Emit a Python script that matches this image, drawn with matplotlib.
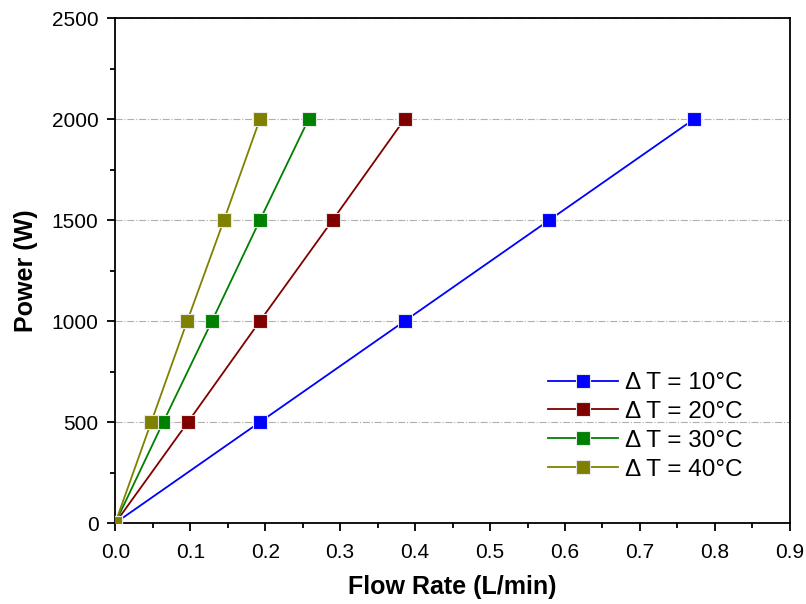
import matplotlib.pyplot as plt
from matplotlib.ticker import MultipleLocator

plt.rcParams['font.family'] = ['Liberation Sans', 'DejaVu Sans']

# Power levels and the flow rate needed for each temperature rise
power = [0, 500, 1000, 1500, 2000]
flow_10 = [0, 0.193, 0.386, 0.579, 0.772]
flow_20 = [0, 0.097, 0.193, 0.290, 0.386]
flow_30 = [0, 0.064, 0.129, 0.193, 0.258]
flow_40 = [0, 0.048, 0.096, 0.145, 0.193]
labels = ["Δ T = 10°C", "Δ T = 20°C", "Δ T = 30°C", "Δ T = 40°C"]
colors = ["#0000FF", "#800000", "#008000", "#808000"]

fig = plt.figure(figsize=(8.06, 6.04), dpi=100)
ax = fig.add_axes([0.143, 0.134, 0.837, 0.836])

for flow, label, color in zip([flow_10, flow_20, flow_30, flow_40], labels, colors):
    ax.plot(flow, power, color=color, lw=1.3, marker='s', markersize=9.5,
            markerfacecolor=color, markeredgecolor='#e8e8e8', markeredgewidth=0.8,
            label=label, zorder=3)

ax.set_xlim(0, 0.9)
ax.set_ylim(0, 2500)
ax.xaxis.set_major_locator(MultipleLocator(0.1))
ax.xaxis.set_minor_locator(MultipleLocator(0.05))
ax.yaxis.set_major_locator(MultipleLocator(500))
ax.yaxis.set_minor_locator(MultipleLocator(250))
ax.xaxis.set_major_formatter(plt.FormatStrFormatter('%.1f'))

ax.tick_params(axis='both', which='major', direction='out', length=6, width=1.3,
               labelsize=15)
ax.tick_params(axis='x', which='major', pad=8)
ax.tick_params(axis='y', which='major', pad=6)
ax.tick_params(axis='both', which='minor', direction='out', length=3.5, width=1.3)
for spine in ax.spines.values():
    spine.set_linewidth(1.3)

# Dash-dot guide lines at the major power levels
ax.grid(axis='y', which='major', color='#b0b0b0', linestyle='-.', linewidth=0.8)
ax.set_axisbelow(True)

ax.set_xlabel("Flow Rate (L/min)", fontsize=18, fontweight='bold', labelpad=10)
ax.set_ylabel("Power (W)", fontsize=18, fontweight='bold', labelpad=10)

ax.legend(loc='lower right', bbox_to_anchor=(0.945, 0.065), borderaxespad=0,
          frameon=False, fontsize=17.5, handlelength=2.9, handletextpad=0.3,
          labelspacing=0.28)

fig.savefig("out.png", dpi=100)
